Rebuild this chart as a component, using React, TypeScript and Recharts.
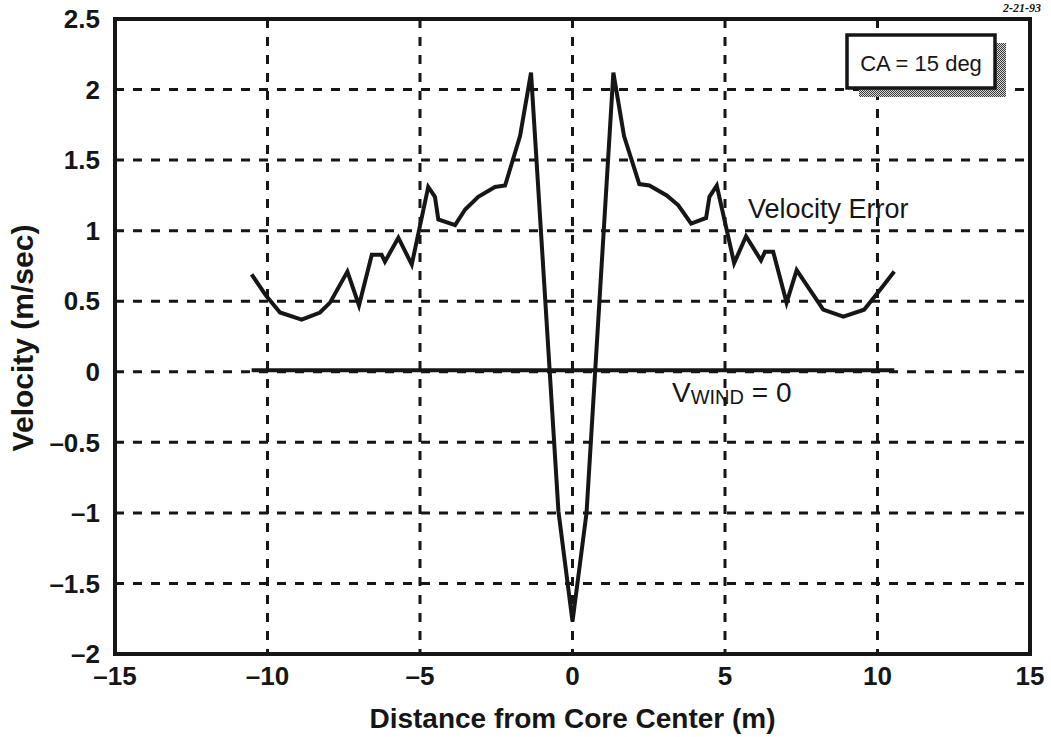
import React from 'react';
import { LineChart, Line, XAxis, YAxis, CartesianGrid, ReferenceArea, Customized } from 'recharts';

const distances = [-10.52, -10.05, -9.59, -8.88, -8.28, -7.95, -7.38, -7.0, -6.58, -6.26, -6.15, -5.71, -5.27, -4.73, -4.51, -4.4, -3.85, -3.52, -3.09, -2.54, -2.21, -1.72, -1.36, -0.46, 0, 0.46, 1.34, 1.69, 2.19, 2.52, 3.09, 3.47, 3.89, 4.38, 4.49, 4.73, 5.3, 5.69, 6.18, 6.31, 6.58, 7.02, 7.35, 8.22, 8.88, 9.56, 10.08, 10.55];
const velocityError = [0.69, 0.54, 0.42, 0.37, 0.42, 0.49, 0.71, 0.47, 0.83, 0.83, 0.78, 0.95, 0.76, 1.31, 1.24, 1.08, 1.04, 1.15, 1.24, 1.31, 1.32, 1.67, 2.12, -0.99, -1.77, -1.0, 2.12, 1.67, 1.33, 1.32, 1.25, 1.18, 1.05, 1.09, 1.24, 1.32, 0.77, 0.96, 0.79, 0.85, 0.85, 0.49, 0.72, 0.44, 0.39, 0.44, 0.58, 0.71];
const windDistances = [-10.52, 10.55];
const windVelocity = [0.01, 0.01];
const xTicks = [-15, -10, -5, 0, 5, 10, 15];
const yTicks = [-2, -1.5, -1, -0.5, 0, 0.5, 1, 1.5, 2, 2.5];

const errData = distances.map((x, i) => ({ x, y: velocityError[i] }));
const windData = windDistances.map((x, i) => ({ x, y: windVelocity[i] }));

const FONT = '"Liberation Sans", Arial, Helvetica, sans-serif';
const INK = '#161616';
const fmt = (v: number) => String(v).replace('-', '\u2013');

const Overlay = () => (
  <g fontFamily={FONT} fill={INK}>
    <defs>
      <pattern id="hatch" width="2" height="2" patternUnits="userSpaceOnUse">
        <rect width="2" height="2" fill="#d8d8d8" />
        <rect x="0" y="0" width="1" height="1" fill="#3a3a3a" />
        <rect x="1" y="1" width="1" height="1" fill="#3a3a3a" />
      </pattern>
    </defs>
    <rect x={859} y={43} width={147} height={54} fill="url(#hatch)" />
    <rect x={847} y={35} width={148} height={53} fill="#fff" stroke={INK} strokeWidth={3.5} />
    <text x={921} y={71} textAnchor="middle" fontSize={22}>CA = 15 deg</text>
    <text x={748} y={218} fontSize={27}>Velocity Error</text>
    <text x={672} y={402}>
      <tspan fontSize={28}>V</tspan>
      <tspan fontSize={20} dy={2}>WIND</tspan>
      <tspan fontSize={28} dy={-2}> = 0</tspan>
    </text>
    <text x={572.5} y={728} textAnchor="middle" fontSize={28} fontWeight={700}>Distance from Core Center (m)</text>
    <text transform="translate(33,338) rotate(-90)" textAnchor="middle" fontSize={30} fontWeight={700}>Velocity (m/sec)</text>
    <text x={1003} y={12} fontSize={12} fontWeight={700} fontStyle="italic" fontFamily="serif">2-21-93</text>
  </g>
);

export default function App() {
  return (
    <div style={{ position: 'absolute', left: 0, top: 0, width: 1051, height: 737, background: '#fff' }}>
      <LineChart width={1051} height={737} data={errData} margin={{ top: 19, right: 21, left: 0, bottom: 0 }}>
        <CartesianGrid stroke={INK} strokeWidth={3} strokeDasharray="9 9" />
        <XAxis
          dataKey="x"
          type="number"
          domain={[-15, 15]}
          ticks={xTicks}
          height={83}
          tickLine={false}
          tickSize={0}
          tickMargin={13}
          axisLine={false}
          tickFormatter={fmt}
          tick={{ fill: INK, fontSize: 26, fontWeight: 700, fontFamily: FONT }}
          allowDataOverflow
        />
        <YAxis
          type="number"
          domain={[-2, 2.5]}
          ticks={yTicks}
          width={115}
          tickLine={false}
          tickSize={0}
          tickMargin={15}
          axisLine={false}
          tickFormatter={fmt}
          tick={{ fill: INK, fontSize: 26, fontWeight: 700, fontFamily: FONT }}
          allowDataOverflow
        />
        <Line data={windData} dataKey="y" type="linear" stroke={INK} strokeWidth={4} dot={false} activeDot={false} isAnimationActive={false} />
        <Line dataKey="y" type="linear" stroke={INK} strokeWidth={4} dot={false} activeDot={false} isAnimationActive={false} />
        <ReferenceArea x1={-15} x2={15} y1={-2} y2={2.5} fill="none" fillOpacity={0} stroke={INK} strokeWidth={4} />
        <Customized component={Overlay} />
      </LineChart>
    </div>
  );
}
